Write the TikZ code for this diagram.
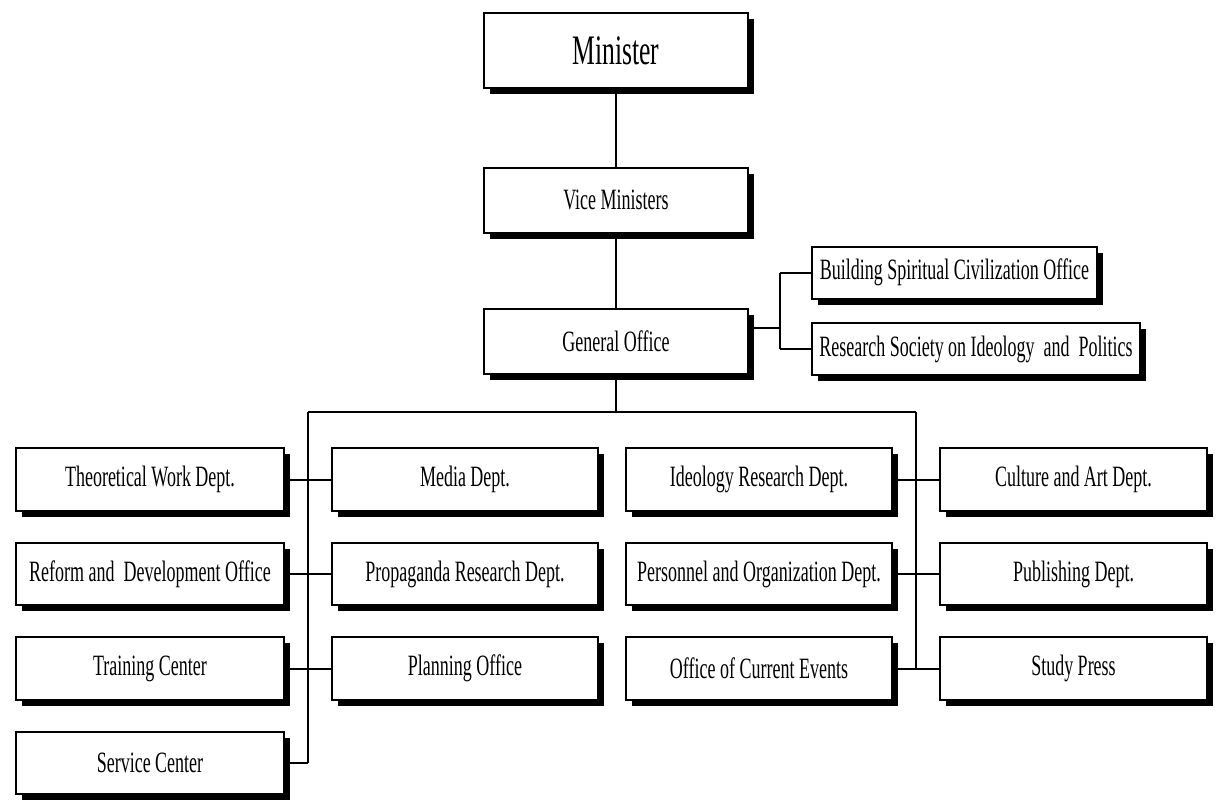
\documentclass[tikz,border=0pt]{standalone}
\usepackage{fontspec}
\setmainfont{Liberation Serif}[FakeStretch=0.61]
\usetikzlibrary{shadows}
\begin{document}
\begin{tikzpicture}[x=1pt,y=-1pt,
  orgbox/.style={draw=black, line width=2pt, fill=white, inner sep=0pt,
    font=\fontsize{29.5}{32}\selectfont,
    drop shadow={shadow xshift=6pt, shadow yshift=-6pt, fill=black, opacity=1}},
  link/.style={draw=black, line width=2pt}]
\useasboundingbox (0,0) rectangle (1216,803);
\fill[white] (0,0) rectangle (1216,803);

% top of the hierarchy
\node[orgbox, minimum width=264pt, minimum height=75pt, font=\fontsize{42}{46}\selectfont] (min) at (616,50.5) {Minister};
\node[orgbox, minimum width=264pt, minimum height=65pt] (vice) at (616,200) {Vice Ministers};
\node[orgbox, minimum width=264pt, minimum height=65pt] (gen) at (616,341) {General Office};

% offices attached to the General Office
\node[orgbox, minimum width=285pt, minimum height=52pt] (bsc) at (954.5,272.5) {Building Spiritual Civilization Office};
\node[orgbox, minimum width=328pt, minimum height=52pt] (rsi) at (976,349) {Research Society on Ideology\ \ and\ \ Politics};

% departments, column by column
\node[orgbox, minimum width=268pt, minimum height=63pt] (twd) at (150,479.5) {Theoretical Work Dept.};
\node[orgbox, minimum width=268pt, minimum height=62pt] (rdo) at (150,574) {Reform and\ \ Development Office};
\node[orgbox, minimum width=268pt, minimum height=63pt] (tc)  at (150,668.5) {Training Center};
\node[orgbox, minimum width=268pt, minimum height=62pt] (sc)  at (150,763) {Service Center};

\node[orgbox, minimum width=266pt, minimum height=63pt] (md)  at (465,479.5) {Media Dept.};
\node[orgbox, minimum width=266pt, minimum height=62pt] (prd) at (465,574) {Propaganda Research Dept.};
\node[orgbox, minimum width=266pt, minimum height=63pt] (po)  at (465,668.5) {Planning Office};

\node[orgbox, minimum width=266pt, minimum height=63pt] (ird) at (759,479.5) {Ideology Research Dept.};
\node[orgbox, minimum width=266pt, minimum height=62pt] (pod) at (759,574) {Personnel and Organization Dept.};
\node[orgbox, minimum width=266pt, minimum height=63pt] (oce) at (759,668.5) {Office of Current Events};

\node[orgbox, minimum width=267pt, minimum height=63pt] (cad) at (1073.5,479.5) {Culture and Art Dept.};
\node[orgbox, minimum width=267pt, minimum height=62pt] (pd)  at (1073.5,574) {Publishing Dept.};
\node[orgbox, minimum width=267pt, minimum height=63pt] (sp)  at (1073.5,668.5) {Study Press};

% junction points
\coordinate (jgo) at (780,328);
\coordinate (bus) at (616,412);
\coordinate (busL) at (308,412);
\coordinate (busR) at (916,412);
\coordinate (endL) at (308,763);
\coordinate (endR) at (916,668.5);

% main spine
\draw[link] (min.south) -- (vice.north);
\draw[link] (vice.south) -- (gen.north);
\draw[link] (gen.south) -- (bus);
\draw[link] (busL) -- (busR);

% side branch
\draw[link] (gen.east |- jgo) -- (jgo);
\draw[link] (jgo |- bsc.west) -- (jgo |- rsi.west);
\draw[link] (jgo |- bsc.west) -- (bsc.west);
\draw[link] (jgo |- rsi.west) -- (rsi.west);

% left trunk and its departments
\draw[link] (busL) -- (endL);
\draw[link] (twd.east) -- (md.west);
\draw[link] (rdo.east) -- (prd.west);
\draw[link] (tc.east) -- (po.west);
\draw[link] (sc.east) -- (endL);

% right trunk and its departments
\draw[link] (busR) -- (endR);
\draw[link] (ird.east) -- (cad.west);
\draw[link] (pod.east) -- (pd.west);
\draw[link] (oce.east) -- (sp.west);
\end{tikzpicture}
\end{document}
